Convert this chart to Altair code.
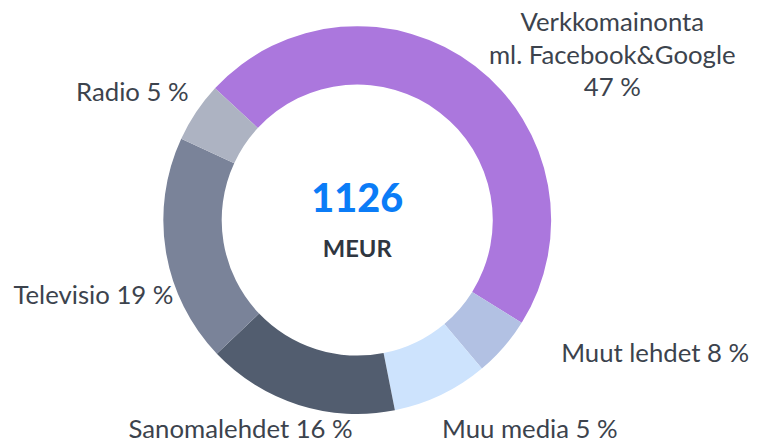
import math
import altair as alt
import pandas as pd

# ---- data ----
categories = ["Verkkomainonta ml. Facebook&Google", "Muut lehdet", "Muu media",
              "Sanomalehdet", "Televisio", "Radio"]
values = [47, 5, 8, 16, 19, 5]
labels = ["Verkkomainonta\nml. Facebook&Google\n47 %", "Muut lehdet 8 %", "Muu media 5 %",
          "Sanomalehdet 16 %", "Televisio 19 %", "Radio 5 %"]
colors = ["#ab77dd", "#b2c1e3", "#cde3fd", "#525d6f", "#7a8399", "#adb3c2"]
total_text = "1126"
unit_text = "MEUR"

df = pd.DataFrame({
    "idx": list(range(len(categories))),
    "category": categories,
    "value": values,
    "label": labels,
})

start = math.radians(-47.2)
theta_scale = alt.Scale(range=[start, start + 2 * math.pi])
FONT = "Lato"
LABEL_COLOR = "#3c434d"

base = alt.Chart(df)

arcs = base.mark_arc(innerRadius=137, outerRadius=196, strokeWidth=0).encode(
    theta=alt.Theta("value:Q", stack=True, scale=theta_scale),
    color=alt.Color("category:N", scale=alt.Scale(domain=categories, range=colors), legend=None),
    order=alt.Order("idx:Q"),
)

mid_base = base.transform_window(
    cum="sum(value)", sort=[alt.SortField("idx")], frame=[None, 0]
).transform_calculate(mid="datum.cum - datum.value / 2")

# (category index, align, dx, dy)
label_specs = [
    (0, "center", 112, 0),
    (1, "left", 25, -14),
    (2, "left", -18, 4),
    (3, "right", 68, -8),
    (4, "right", 51, 46),
    (5, "right", 29, 13),
]

label_layers = []
for i, align, dx, dy in label_specs:
    label_layers.append(
        mid_base.transform_filter(alt.datum.idx == i).mark_text(
            font=FONT, fontSize=26, color=LABEL_COLOR, align=align, baseline="alphabetic",
            dx=dx, dy=dy, lineBreak="\n", lineHeight=32.5,
        ).encode(
            theta=alt.Theta("mid:Q", stack=None),
            radius=alt.value(240),
            text="label:N",
        )
    )

center_num = alt.Chart(pd.DataFrame({"t": [total_text]})).mark_text(
    font=FONT, fontSize=40, fontWeight=900, color="#0b7cf7", baseline="alphabetic", dy=-8
).encode(text="t:N")

center_unit = alt.Chart(pd.DataFrame({"t": [unit_text]})).mark_text(
    font=FONT, fontSize=24, fontWeight="bold", color="#2f3640", baseline="alphabetic", dy=37
).encode(text="t:N")

chart = alt.layer(arcs, *label_layers, center_num, center_unit).properties(
    width=706, height=408,
    autosize=alt.AutoSizeParams(type="none"),
    padding={"left": 0, "top": 8, "right": 45, "bottom": 20},
    background="white",
).configure_view(stroke=None)

chart.save("out.html", embed_options={"renderer": "svg", "actions": False})
